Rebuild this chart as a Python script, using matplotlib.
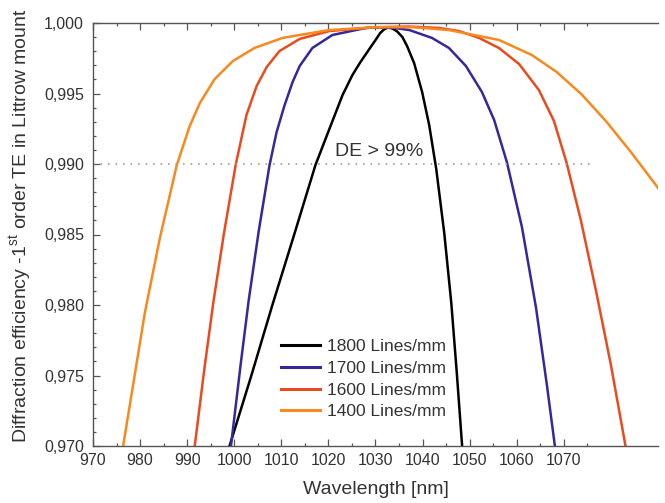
import matplotlib
matplotlib.use("Agg")
import matplotlib.pyplot as plt
from matplotlib.ticker import MultipleLocator, FuncFormatter

plt.rcParams['font.family'] = ['Liberation Sans', 'DejaVu Sans']
plt.rcParams['mathtext.fontset'] = 'custom'
plt.rcParams['mathtext.rm'] = 'Liberation Sans'

# values (wavelength nm, diffraction efficiency)
wl_1800 = [999.0, 1003.6, 1008.1, 1012.7, 1017.25, 1020.2, 1023.0, 1025.1, 1026.8, 1028.7,
           1030.0, 1031.0, 1031.9, 1032.7, 1033.6, 1034.6, 1035.7, 1036.7, 1038.2, 1039.9,
           1041.4, 1042.9, 1044.6, 1046.1, 1047.3, 1048.4]
de_1800 = [0.970, 0.97496, 0.980, 0.98496, 0.98993, 0.99248, 0.99489, 0.99631, 0.99723, 0.99816,
           0.99879, 0.99929, 0.99957, 0.99968, 0.99961, 0.9994, 0.99901, 0.99837, 0.99716, 0.99511,
           0.99277, 0.98965, 0.98511, 0.98014, 0.97504, 0.970]

wl_1700 = [999.3, 1001.4, 1003.05, 1005.2, 1007.5, 1009.0, 1010.7, 1012.4, 1013.9, 1016.6,
           1020.85, 1028.0, 1032.9, 1037.2, 1042.0, 1045.6, 1049.2, 1052.6, 1055.2, 1057.9,
           1061.1, 1064.1, 1066.4, 1068.1]
de_1700 = [0.970, 0.97589, 0.98028, 0.98525, 0.98993, 0.99227, 0.99418, 0.99582, 0.99695, 0.99823,
           0.99915, 0.99965, 0.9997, 0.9995, 0.99894, 0.99823, 0.99695, 0.99511, 0.99312, 0.99014,
           0.98553, 0.97979, 0.97433, 0.970]

wl_1600 = [991.6, 993.7, 995.6, 997.75, 1000.3, 1002.6, 1004.75, 1006.9, 1009.6, 1013.9,
           1020.2, 1030.0, 1037.0, 1043.5, 1047.75, 1052.0, 1056.2, 1060.5, 1064.7, 1067.9,
           1070.6, 1073.6, 1076.8, 1080.0, 1083.1]
de_1600 = [0.970, 0.9756, 0.98028, 0.98496, 0.98993, 0.99348, 0.99553, 0.99688, 0.99801, 0.99887,
           0.99943, 0.9997, 0.99975, 0.99965, 0.99943, 0.99894, 0.99823, 0.99709, 0.99525, 0.99305,
           0.99007, 0.98603, 0.98106, 0.97574, 0.970]

wl_1400 = [976.4, 981.0, 984.2, 987.8, 990.55, 992.7, 995.85, 999.7, 1004.3, 1010.25,
           1013.9, 1020.2, 1030.0, 1038.0, 1045.6, 1056.2, 1063.2, 1068.5, 1073.8, 1079.1,
           1084.4, 1089.7, 1092.2]
de_1400 = [0.970, 0.97943, 0.98475, 0.98993, 0.9927, 0.99433, 0.99603, 0.9973, 0.99823, 0.99894,
           0.99915, 0.9995, 0.9997, 0.9997, 0.9995, 0.9988, 0.99773, 0.99652, 0.99493, 0.99298,
           0.99078, 0.98844, 0.9873]

series = [
    ("1800 Lines/mm", wl_1800, de_1800, "#000000"),
    ("1700 Lines/mm", wl_1700, de_1700, "#35289a"),
    ("1600 Lines/mm", wl_1600, de_1600, "#e94b1f"),
    ("1400 Lines/mm", wl_1400, de_1400, "#f7891e"),
]

fig = plt.figure(figsize=(6.65, 5.03), dpi=100)
ax = fig.add_axes([93 / 665, 1 - 446 / 503, (658 - 93) / 665, (446 - 23) / 503])

for label, x, y, c in series:
    ax.plot(x, y, color=c, lw=1.8, label=label, solid_joinstyle='round')

ax.plot([970, 1075.7], [0.990, 0.990], color='#a0a0a0', lw=1.2, ls=(0, (1, 3.5)))
ax.text(1021.3, 0.99058, "DE > 99%", fontsize=14, color='#333333', ha='left', va='baseline')

ax.set_xlim(970, 1090)
ax.set_ylim(0.970, 1.000)
ax.set_xticks(range(970, 1071, 10))
ax.set_xticks([t for t in range(975, 1076, 5) if t % 10], minor=True)
ax.yaxis.set_major_locator(MultipleLocator(0.005))
ax.yaxis.set_minor_locator(MultipleLocator(0.001))
ax.yaxis.set_major_formatter(FuncFormatter(lambda v, p: f"{v:.3f}".replace('.', ',')))

for s in ['left', 'top', 'bottom']:
    ax.spines[s].set_color('#555555')
    ax.spines[s].set_linewidth(1.0)
ax.spines['right'].set_visible(False)

ax.tick_params(which='both', direction='in', top=True, right=False, colors='#555555',
               labelcolor='#333333', labelsize=11.5)
ax.tick_params(which='major', length=5, width=0.9)
ax.tick_params(which='minor', length=2.5, width=0.9)
ax.tick_params(axis='y', pad=6.5)
ax.tick_params(axis='x', pad=5)

ax.set_xlabel("Wavelength [nm]", fontsize=14, color='#333333')
ax.set_ylabel(r"Diffraction efficiency -1$^{\rm st}$ order TE in Littrow mount",
              fontsize=14, color='#333333')
ax.xaxis.set_label_coords(0.5, -0.083)
ax.yaxis.set_label_coords(-0.105, 0.52)

leg = ax.legend(loc='upper left', bbox_to_anchor=(0.333, 0.253), frameon=False,
                fontsize=12.5, borderaxespad=0, borderpad=0, labelspacing=0.38,
                handlelength=2.25, handletextpad=0.4)
for t in leg.get_texts():
    t.set_color('#333333')
for h in leg.get_lines():
    h.set_linewidth(2.2)

fig.savefig("out.png", dpi=100)
